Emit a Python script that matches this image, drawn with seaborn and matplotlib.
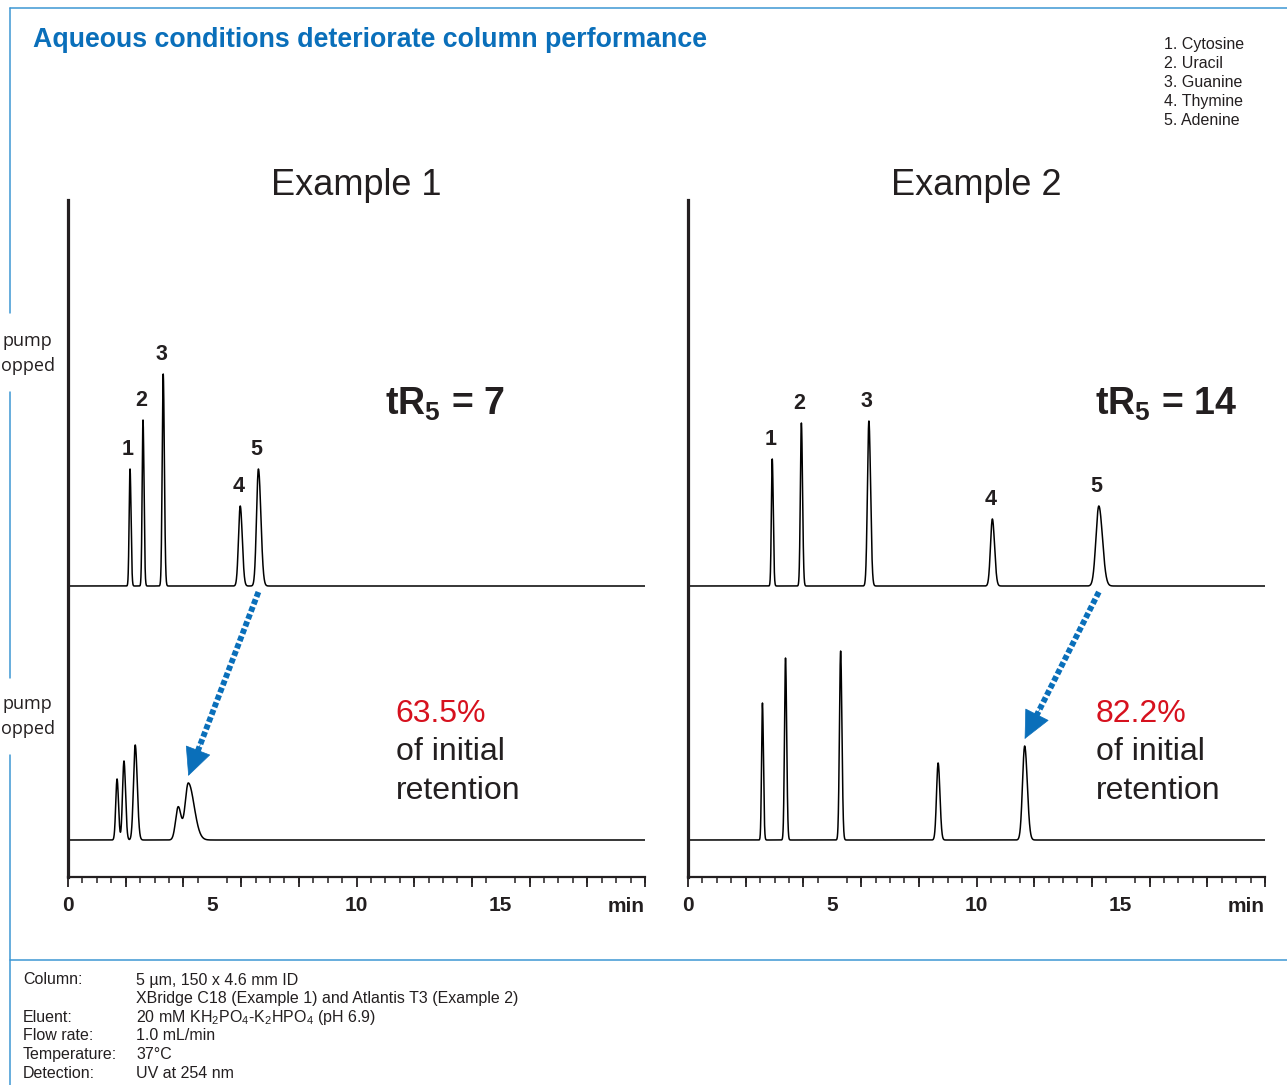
import numpy as np
import pandas as pd
import matplotlib
matplotlib.use('Agg')
import matplotlib.pyplot as plt
from matplotlib.lines import Line2D
from matplotlib.ticker import MultipleLocator
import seaborn as sns

sns.set_style('ticks')
plt.rcParams['font.family'] = ['Liberation Sans', 'DejaVu Sans']

# ---- data (time in min, height in signal units) ----
peak_labels = ['1', '2', '3', '4', '5']
compounds = ['1. Cytosine', '2. Uracil', '3. Guanine', '4. Thymine', '5. Adenine']

ex1_before_rt = [2.15, 2.60, 3.30, 5.97, 6.60]
ex1_before_h = [117, 166, 212, 80, 117]
ex1_before_sl = [0.030, 0.030, 0.035, 0.060, 0.065]
ex1_before_sr = [0.035, 0.035, 0.040, 0.070, 0.085]

ex1_after_rt = [1.70, 1.94, 2.33, 3.82, 4.17]
ex1_after_h = [61, 79, 95, 33, 57]
ex1_after_sl = [0.045, 0.050, 0.060, 0.090, 0.110]
ex1_after_sr = [0.050, 0.055, 0.070, 0.100, 0.200]

ex2_before_rt = [2.92, 3.93, 6.27, 10.55, 14.24]
ex2_before_h = [127, 163, 165, 67, 80]
ex2_before_sl = [0.030, 0.035, 0.050, 0.065, 0.100]
ex2_before_sr = [0.035, 0.040, 0.058, 0.075, 0.125]

ex2_after_rt = [2.58, 3.38, 5.29, 8.67, 11.67]
ex2_after_h = [137, 182, 189, 77, 94]
ex2_after_sl = [0.030, 0.035, 0.040, 0.055, 0.075]
ex2_after_sr = [0.035, 0.040, 0.045, 0.062, 0.090]

titles = ['Example 1', 'Example 2']
tr5 = ['7', '14']
retention_pct = ['63.5%', '82.2%']

BLUE = '#0a6fba'
FRAME = '#3d97d3'
RED = '#d6111e'
INK = '#231f20'

W, H = 1287, 1085
BASE_TOP, BASE_BOT = 291, 37


def fx(x):
    return x / W


def fy(y):
    return 1 - y / H


def trace(rt, h, sl, sr, base):
    t = np.linspace(0, 20, 6000)
    s = np.full_like(t, float(base))
    for r, a, l, rr in zip(rt, h, sl, sr):
        sig = np.where(t < r, l, rr)
        s += a * np.exp(-0.5 * ((t - r) / sig) ** 2)
    return t, s


def peak_top(rt, h, sl, sr, base, r):
    t, s = trace(rt, h, sl, sr, base)
    i = np.argmin(np.abs(t - r))
    return s[i]


fig = plt.figure(figsize=(W / 100, H / 100), dpi=100)

# frame lines
for (x0, y0, x1, y1) in [(10, 8, W, 8), (10, 8, 10, 313), (10, 392, 10, 678),
                         (10, 755, 10, H), (10, 960, W, 960)]:
    fig.add_artist(Line2D([fx(x0), fx(x1)], [fy(y0), fy(y1)], transform=fig.transFigure,
                          color=FRAME, lw=1.1))

fig.text(fx(33), fy(40), 'Aqueous conditions deteriorate column performance',
         color=BLUE, fontsize=19.3, fontweight='bold', va='center', ha='left')

for i, c in enumerate(compounds):
    fig.text(fx(1164), fy(45 + i * 18.8), c, fontsize=11.5, color=INK, va='center')

for yc in [341, 704]:
    fig.text(fx(2), fy(yc), 'pump', fontsize=13, color=INK, va='center', ha='left',
             family=['Open Sans', 'DejaVu Sans'])
    fig.text(fx(1), fy(yc + 25), 'opped', fontsize=13, color=INK, va='center', ha='left',
             family=['Open Sans', 'DejaVu Sans'])

runs = [
    [(ex1_before_rt, ex1_before_h, ex1_before_sl, ex1_before_sr),
     (ex1_after_rt, ex1_after_h, ex1_after_sl, ex1_after_sr)],
    [(ex2_before_rt, ex2_before_h, ex2_before_sl, ex2_before_sr),
     (ex2_after_rt, ex2_after_h, ex2_after_sl, ex2_after_sr)],
]

lefts = [68, 688]
for k in range(2):
    ax = fig.add_axes([fx(lefts[k]), fy(877), 577 / W, 677 / H])
    before, after = runs[k]
    frames = []
    for name, p, base in [('before', before, BASE_TOP), ('after', after, BASE_BOT)]:
        t, s = trace(*p, base)
        frames.append(pd.DataFrame({'time': t, 'signal': s, 'run': name}))
    df = pd.concat(frames)
    sns.lineplot(data=df, x='time', y='signal', units='run', estimator=None,
                 color='black', lw=1.1, ax=ax, legend=False)

    ax.set_xlim(0, 20)
    ax.set_ylim(0, 677)
    ax.set_xlabel('')
    ax.set_ylabel('')
    ax.set_yticks([])
    sns.despine(ax=ax)
    ax.spines['left'].set_linewidth(2.3)
    ax.spines['left'].set_color(INK)
    ax.spines['bottom'].set_linewidth(1.6)
    ax.spines['bottom'].set_color(INK)

    ax.set_xticks([0, 5, 10, 15])
    ax.set_xticklabels(['0', '5', '10', '15'], fontsize=15, fontweight='bold', color=INK)
    ax.tick_params(axis='x', which='major', length=0, pad=14)
    ax.xaxis.set_minor_locator(MultipleLocator(0.5))
    ax.tick_params(axis='x', which='minor', length=4.5, width=1.1, color=INK, direction='out')
    sec = ax.secondary_xaxis('bottom')
    sec.set_xticks(np.arange(0, 21, 2))
    sec.tick_params(length=7.5, width=1.3, color=INK, labelbottom=False, direction='out')
    sec.spines['bottom'].set_visible(False)
    ax.text(20, -29, 'min', ha='right', va='center', fontsize=15, fontweight='bold', color=INK)

    ax.text(10, 682, titles[k], ha='center', va='baseline', fontsize=26, color=INK)

    # peak numbers above the initial run
    rt, h, sl, sr = before
    for lab, r in zip(peak_labels, rt):
        top = peak_top(rt, h, sl, sr, BASE_TOP, r)
        ax.text(r - 0.07, top + 20, lab, ha='center', va='center', fontsize=15.5,
                fontweight='bold', color=INK)

    xt = 11.0 if k == 0 else 14.1
    ax.text(xt, 462, r'tR$_\mathregular{5}$ = ' + tr5[k], fontsize=27, fontweight='bold',
            color=INK, ha='left', va='baseline')
    xp = 11.36 if k == 0 else 14.14
    ax.text(xp, 155, retention_pct[k], fontsize=23, color=RED, ha='left', va='baseline')
    ax.text(xp, 117, 'of initial', fontsize=23, color=INK, ha='left', va='baseline')
    ax.text(xp, 78, 'retention', fontsize=23, color=INK, ha='left', va='baseline')

    # dotted arrow from initial peak 5 to final peak 5
    start = (rt[4], BASE_TOP - 6)
    art, ah, asl, asr = after
    tip = (art[4], peak_top(art, ah, asl, asr, BASE_BOT, art[4]) + 7)
    p0 = ax.transData.transform(start)
    p1 = ax.transData.transform(tip)
    L = np.hypot(*(p0 - p1))
    f = 26 / L
    base_pt = (tip[0] + f * (start[0] - tip[0]), tip[1] + f * (start[1] - tip[1]))
    ax.plot([start[0], base_pt[0]], [start[1], base_pt[1]], color=BLUE, lw=4.2,
            linestyle=(0, (0.9, 0.45)), solid_capstyle='butt', dash_capstyle='butt')
    g = 1.3 * f
    from_pt = (tip[0] + g * (start[0] - tip[0]), tip[1] + g * (start[1] - tip[1]))
    ax.annotate('', xy=tip, xytext=from_pt,
                arrowprops=dict(arrowstyle='-|>,head_length=0.95,head_width=0.45',
                                color=BLUE, lw=0.5, mutation_scale=20,
                                shrinkA=0, shrinkB=0))

# conditions block
rows = [('Column:', '5 µm, 150 x 4.6 mm ID'),
        ('', 'XBridge C18 (Example 1) and Atlantis T3 (Example 2)'),
        ('Eluent:', r'20 mM KH$_\mathregular{2}$PO$_\mathregular{4}$-K$_\mathregular{2}$HPO$_\mathregular{4}$ (pH 6.9)'),
        ('Flow rate:', '1.0 mL/min'),
        ('Temperature:', '37°C'),
        ('Detection:', 'UV at 254 nm')]
for i, (a, b) in enumerate(rows):
    y = 980 + i * 18.6
    fig.text(fx(23), fy(y), a, fontsize=11.5, color=INK, va='center')
    fig.text(fx(136), fy(y), b, fontsize=11.5, color=INK, va='center')

fig.savefig('out.png', dpi=100)
